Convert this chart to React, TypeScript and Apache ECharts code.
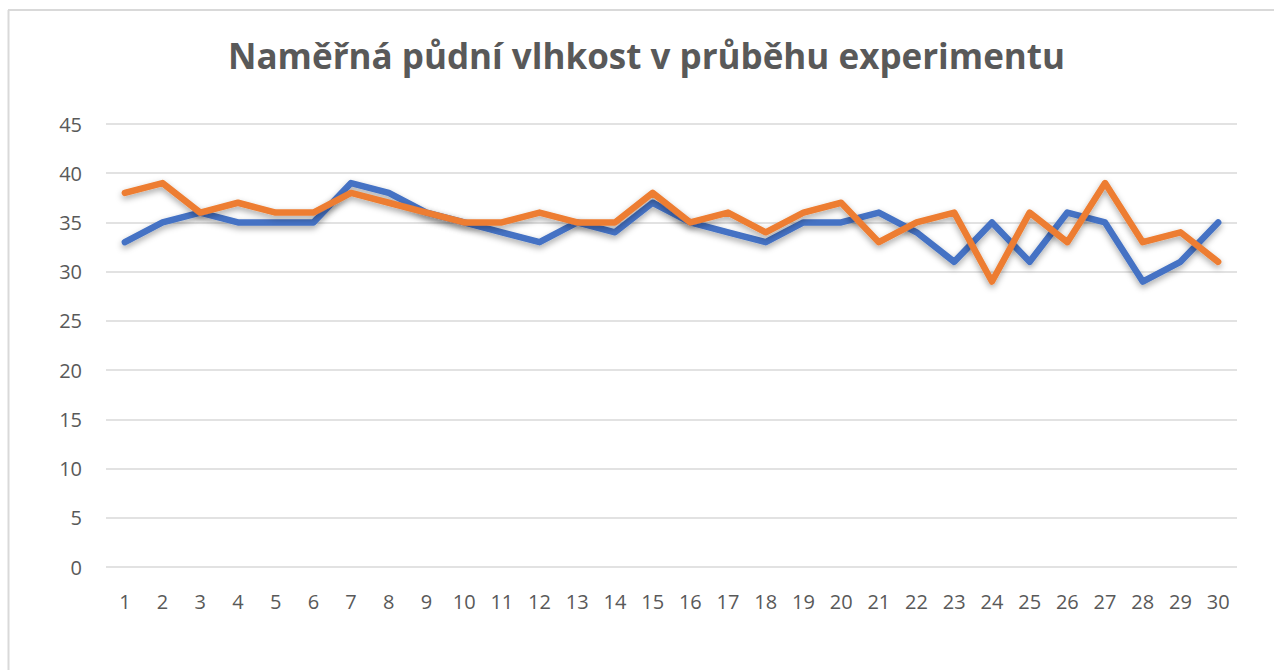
import React, { useEffect, useRef } from "react";
import * as echarts from "echarts";

const categories: string[] = [
  "1", "2", "3", "4", "5", "6", "7", "8", "9", "10",
  "11", "12", "13", "14", "15", "16", "17", "18", "19", "20",
  "21", "22", "23", "24", "25", "26", "27", "28", "29", "30",
];

const seriesBlue: number[] = [
  33, 35, 36, 35, 35, 35, 39, 38, 36, 35,
  34, 33, 35, 34, 37, 35, 34, 33, 35, 35,
  36, 34, 31, 35, 31, 36, 35, 29, 31, 35,
];

const seriesOrange: number[] = [
  38, 39, 36, 37, 36, 36, 38, 37, 36, 35,
  35, 36, 35, 35, 38, 35, 36, 34, 36, 37,
  33, 35, 36, 29, 36, 33, 39, 33, 34, 31,
];

const titleText = "Naměřná půdní vlhkost v průběhu experimentu";

export default function App() {
  const ref = useRef<HTMLDivElement>(null);

  useEffect(() => {
    if (!ref.current) return;
    const chart = echarts.init(ref.current, null, { renderer: "svg" });
    const lineShadow = {
      shadowColor: "rgba(0,0,0,0.35)",
      shadowBlur: 6,
      shadowOffsetY: 3,
    };
    chart.setOption({
      animation: false,
      backgroundColor: "#ffffff",
      title: {
        text: titleText,
        left: 223,
        top: 33,
        textStyle: {
          fontFamily: "Open Sans",
          fontWeight: "bold",
          fontSize: 35,
          color: "#595959",
        },
      },
      grid: { left: 106, right: 37, top: 124, bottom: 103 },
      xAxis: {
        type: "category",
        data: categories,
        boundaryGap: true,
        axisLine: { show: false },
        axisTick: { show: false },
        axisLabel: {
          color: "#595959",
          fontFamily: "Open Sans",
          fontSize: 20,
          margin: 24,
        },
        splitLine: { show: false },
      },
      yAxis: {
        type: "value",
        min: 0,
        max: 45,
        interval: 5,
        axisLine: { show: false },
        axisTick: { show: false },
        axisLabel: {
          color: "#595959",
          fontFamily: "Open Sans",
          fontSize: 20,
          margin: 24,
        },
        splitLine: { lineStyle: { color: "#d9d9d9", width: 1.5 } },
      },
      series: [
        {
          name: "Řada 1",
          type: "line",
          data: seriesBlue,
          symbol: "none",
          lineStyle: { color: "#4472C4", width: 6.5, cap: "round", join: "round", ...lineShadow },
          itemStyle: { color: "#4472C4" },
        },
        {
          name: "Řada 2",
          type: "line",
          data: seriesOrange,
          symbol: "none",
          lineStyle: { color: "#ED7D31", width: 6.5, cap: "round", join: "round", ...lineShadow },
          itemStyle: { color: "#ED7D31" },
        },
      ],
      graphic: [
        {
          type: "line",
          shape: { x1: 8, y1: 10, x2: 1274, y2: 10 },
          style: { stroke: "#d9d9d9", lineWidth: 2 },
          silent: true,
        },
        {
          type: "line",
          shape: { x1: 8.5, y1: 10, x2: 8.5, y2: 670 },
          style: { stroke: "#d9d9d9", lineWidth: 2 },
          silent: true,
        },
      ],
    });
    return () => chart.dispose();
  }, []);

  return (
    <div
      ref={ref}
      style={{ position: "fixed", left: 0, top: 0, width: 1274, height: 670 }}
    />
  );
}
